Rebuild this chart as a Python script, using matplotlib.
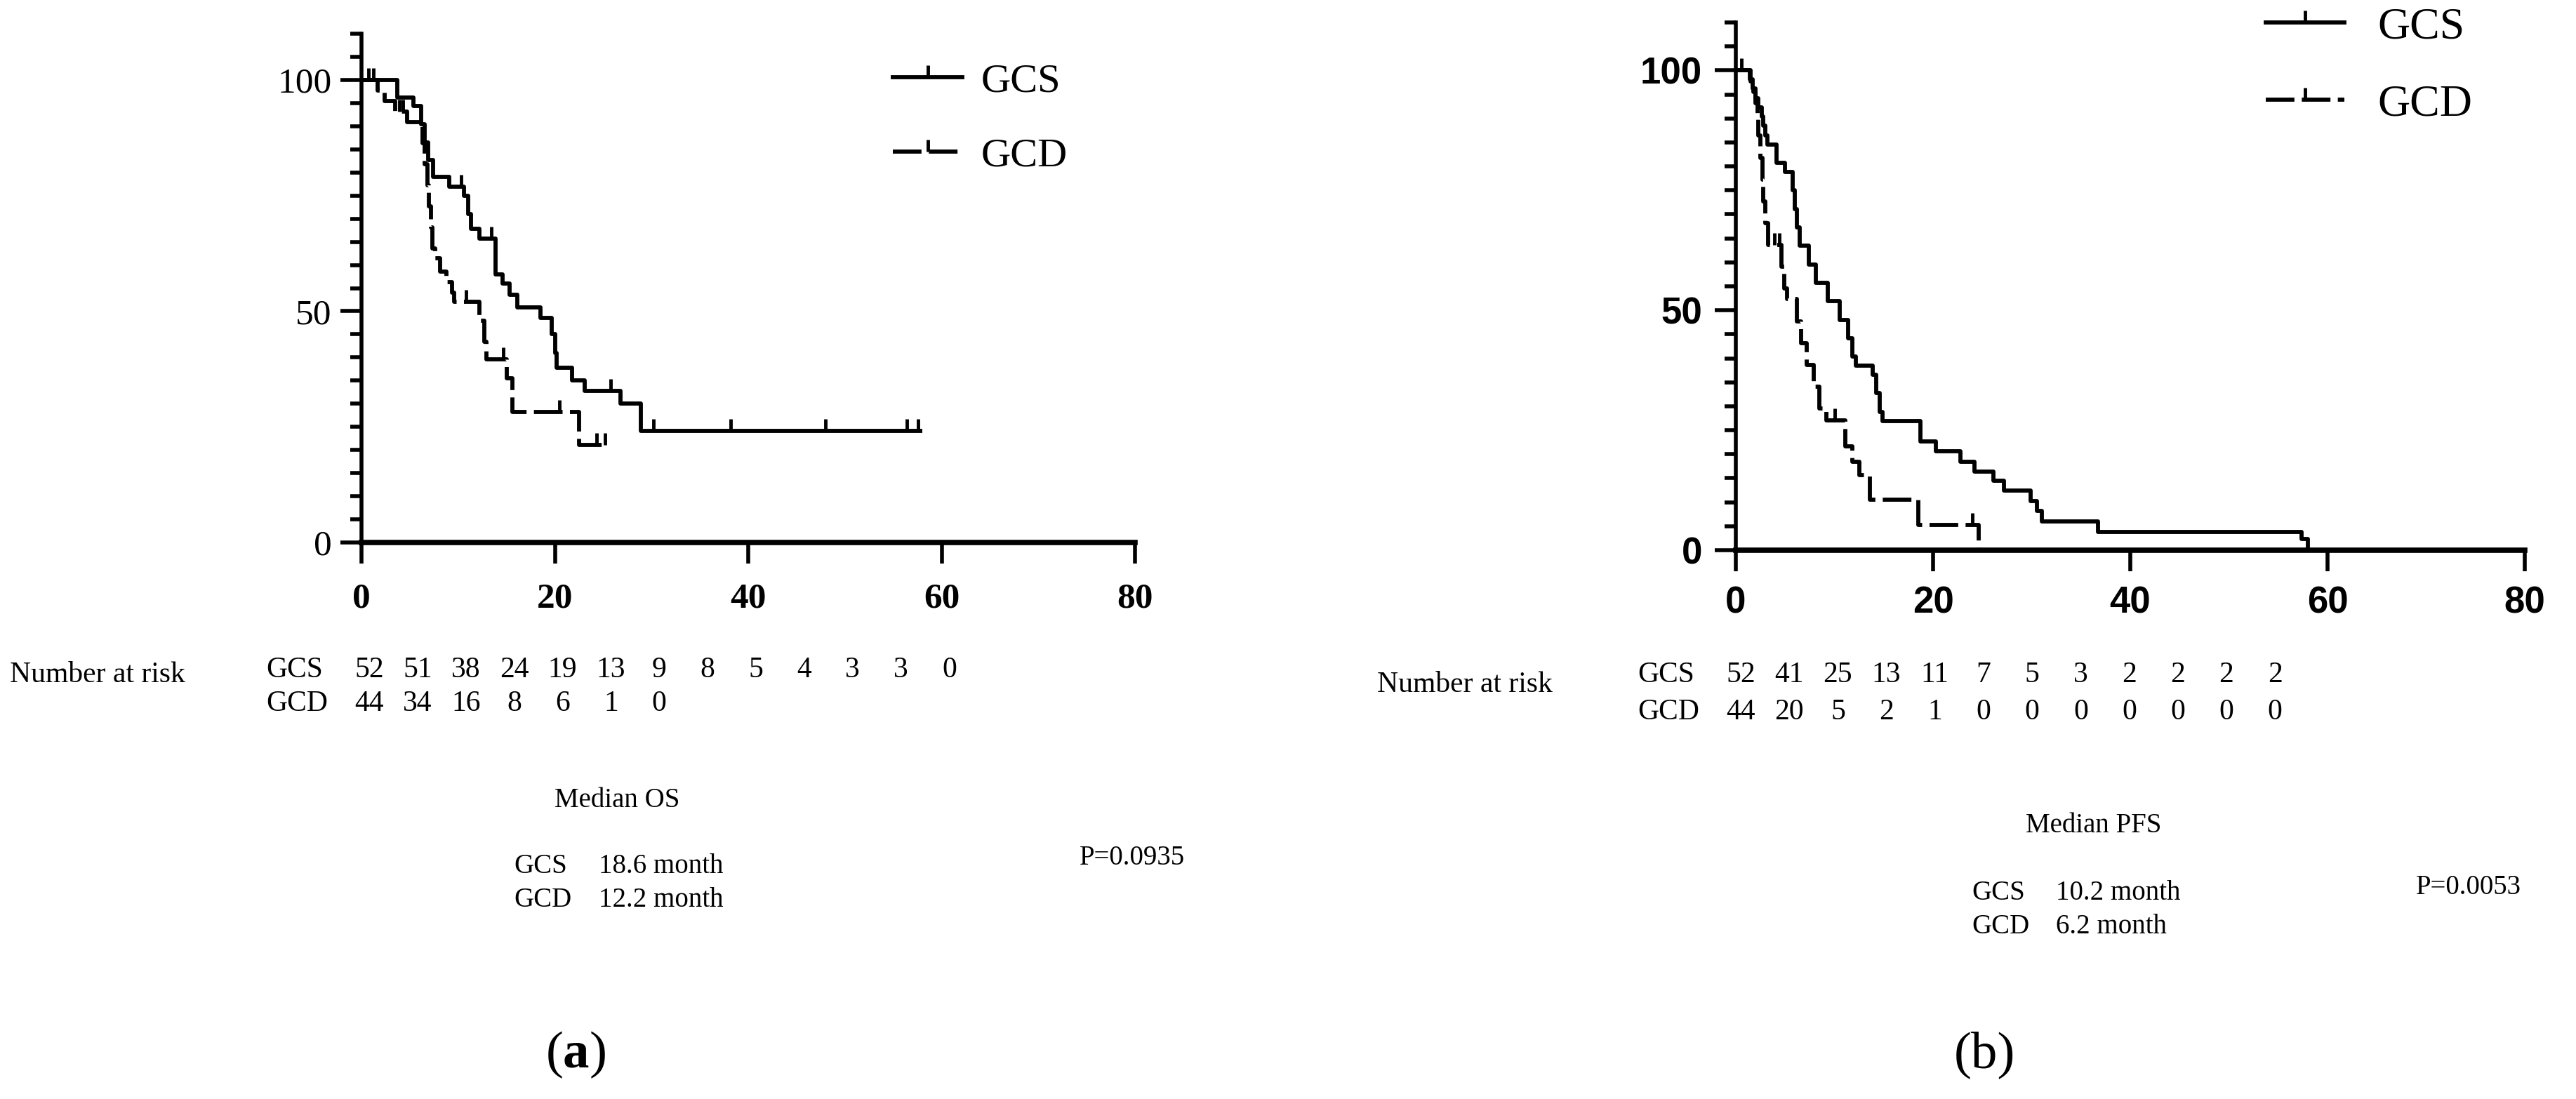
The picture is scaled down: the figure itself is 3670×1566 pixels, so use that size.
import numpy as np
import matplotlib.pyplot as plt
from matplotlib.lines import Line2D
from matplotlib.ticker import MultipleLocator
from matplotlib import transforms

plt.rcParams['font.family'] = ['Liberation Serif', 'DejaVu Serif']
plt.rcParams['mathtext.fontset'] = 'custom'
plt.rcParams['mathtext.rm'] = 'Liberation Serif'
plt.rcParams['mathtext.bf'] = 'Liberation Serif:bold'

## Kaplan-Meier curves (months, % event free)
# (a) overall survival
os_gcs_t = [0, 3.7, 5.4, 6.2, 6.5, 6.9, 7.4, 9.1, 10.6, 11.0, 11.3, 12.2, 13.9, 14.6,
            15.3, 16.1, 18.5, 19.7, 20.0, 20.2, 21.8, 23.1, 26.8, 28.9]
os_gcs_s = [100, 96.2, 94.4, 90.4, 86.5, 82.7, 79.0, 76.9, 74.9, 71.0, 67.8, 65.7, 58.0, 56.0,
            53.5, 50.8, 48.5, 45.0, 41.0, 37.8, 35.0, 32.8, 30.0, 24.2]
os_gcs_end = 58.0
os_gcs_cens = [0.7, 1.2, 10.3, 13.4, 25.8, 30.2, 38.2, 48.0, 56.4, 57.6]

os_gcd_t = [0, 1.7, 2.4, 3.5, 4.7, 6.3, 6.5, 6.8, 7.0, 7.2, 7.3, 7.6, 8.1, 8.8, 9.4, 9.6,
            12.2, 12.7, 12.9, 15.0, 15.6, 22.5]
os_gcd_s = [100, 97.7, 95.5, 93.2, 90.9, 86.4, 81.8, 77.3, 72.7, 68.2, 63.6, 61.4, 58.6, 56.3,
            54.0, 52.0, 47.9, 43.4, 39.6, 35.5, 28.2, 21.1]
os_gcd_end = 25.2
os_gcd_cens = [3.9, 4.3, 10.8, 14.7, 20.5, 24.3, 25.2]

# (b) progression free survival
pfs_gcs_t = [0, 1.4, 1.7, 2.0, 2.3, 2.6, 2.8, 3.0, 3.2, 4.1, 5.0, 5.8, 6.0, 6.2, 6.5, 7.4, 8.1,
             9.3, 10.5, 11.4, 11.8, 12.2, 13.9, 14.2, 14.6, 14.9, 18.7, 20.3, 22.8, 24.2, 26.1,
             27.2, 29.9, 30.5, 31.0, 36.7, 57.4, 58.0]
pfs_gcs_s = [100, 98.1, 96.2, 94.2, 92.3, 90.4, 88.5, 86.5, 84.6, 80.7, 78.8, 75.0, 71.1, 67.3,
             63.5, 59.6, 55.8, 51.9, 48.0, 44.2, 40.4, 38.4, 36.5, 32.7, 28.8, 26.9, 22.6, 20.6,
             18.4, 16.4, 14.5, 12.5, 10.3, 8.2, 6.0, 3.8, 2.4, 0]
pfs_gcs_end = 58.0
pfs_gcs_cens = [0.6]

pfs_gcd_t = [0, 1.5, 1.8, 2.0, 2.2, 2.3, 2.5, 2.7, 2.8, 3.0, 3.3, 4.6, 4.9, 5.2, 6.2, 6.6, 7.2,
             7.9, 8.5, 9.2, 11.1, 11.8, 12.5, 13.6, 18.5, 24.6]
pfs_gcd_s = [100, 97.7, 95.5, 93.2, 90.9, 86.4, 81.8, 77.3, 72.7, 68.2, 63.6, 59.1, 54.5, 52.3,
             47.7, 43.2, 38.6, 34.1, 29.5, 27.0, 21.6, 18.4, 15.6, 10.6, 5.3, 0]
pfs_gcd_end = 24.6
pfs_gcd_cens = [3.9, 4.4, 10.0, 24.0]

## Number at risk tables
risk_os_t = [0, 5, 10, 15, 20, 25, 30, 35, 40, 45, 50, 55, 60]
risk_os_gcs = [52, 51, 38, 24, 19, 13, 9, 8, 5, 4, 3, 3, 0]
risk_os_gcd = [44, 34, 16, 8, 6, 1, 0]
risk_pfs_t = [0, 5, 10, 15, 20, 25, 30, 35, 40, 45, 50, 55]
risk_pfs_gcs = [52, 41, 25, 13, 11, 7, 5, 3, 2, 2, 2, 2]
risk_pfs_gcd = [44, 20, 5, 2, 1, 0, 0, 0, 0, 0, 0, 0]

groups = ['GCS', 'GCD']
median_os = ['18.6 month', '12.2 month']
median_pfs = ['10.2 month', '6.2 month']
p_os = 'P=0.0935'
p_pfs = 'P=0.0053'

W, H = 3670, 1566
LW = 4.2
fig = plt.figure(figsize=(W / 100, H / 100), dpi=100)

def fy(ypx):
    return 1 - ypx / H

def make_axes(x0, x1, y0, y_top):
    return fig.add_axes([x0 / W, fy(y0), (x1 - x0) / W, (y0 - y_top) / H])

def km_at(t, s, tc):
    idx = np.searchsorted(t, tc, side='right') - 1
    return np.array(s)[idx]

def plot_km(ax, t, s, end, cens, ls):
    tt = list(t) + [end]
    ss = list(s) + [s[-1]]
    line = (0, (7, 1.8)) if ls == 'dashed' else '-'
    ax.step(tt, ss, where='post', color='k', lw=LW, ls=line, solid_capstyle='butt')
    ax.plot(cens, km_at(t, s, cens), ls='none', marker=2, ms=12, mew=3.5, color='k')

def style_axes(ax, sans):
    for side in ['top', 'right']:
        ax.spines[side].set_visible(False)
    ax.spines['left'].set_linewidth(4.0)
    ax.spines['bottom'].set_linewidth(5.5)
    ax.set_xlim(0, 80)
    ax.set_ylim(0, 110)
    ax.set_xticks([0, 20, 40, 60, 80])
    ax.set_yticks([0, 50, 100])
    ax.yaxis.set_minor_locator(MultipleLocator(5))
    ax.tick_params(which='major', length=21.6, width=4.0, direction='out')
    ax.tick_params(which='minor', length=11.5, width=4.0, direction='out')
    if sans:
        for lab in ax.get_xticklabels() + ax.get_yticklabels():
            lab.set_fontfamily('Liberation Sans')
            lab.set_fontweight('bold')
            lab.set_fontsize(38)
        ax.tick_params(axis='x', pad=15)
        ax.tick_params(axis='y', pad=13)
    else:
        for lab in ax.get_yticklabels():
            lab.set_fontsize(37)
        for lab in ax.get_xticklabels():
            lab.set_fontsize(37)
            lab.set_fontweight('bold')
        ax.tick_params(axis='x', pad=20)
        ax.tick_params(axis='y', pad=9)

def add_legend(ax, x, y, size, hl, spacing, textpad):
    handles = [Line2D([], [], color='k', lw=LW, ls='-', marker=2, ms=12, mew=3.5),
               Line2D([], [], color='k', lw=LW, ls=(0, (7, 1.8)), marker=2, ms=12, mew=3.5)]
    ax.legend(handles, groups, loc='upper left', bbox_to_anchor=(x / W, fy(y)),
              bbox_transform=fig.transFigure, frameon=False, fontsize=size,
              handlelength=hl, handletextpad=textpad, labelspacing=spacing,
              borderpad=0, borderaxespad=0, numpoints=1)

def risk_table(ax, x_title, x_lab, y_title, y_rows, times, rows, scale, offset):
    blend = transforms.blended_transform_factory(ax.transData, fig.transFigure)
    fig.text(x_title / W, fy(y_title), 'Number at risk', fontsize=30, va='center')
    for name, vals, yr in zip(groups, rows, y_rows):
        fig.text(x_lab / W, fy(yr), name, fontsize=30, va='center')
        for tm, n in zip(times, vals):
            ax.text(tm * scale + offset, fy(yr), str(n), transform=blend,
                    fontsize=30, ha='center', va='center')

def median_block(x_head, y_head, x_grp, x_val, y_rows, head, vals, p_text, x_p, y_p):
    fig.text(x_head / W, fy(y_head), head, fontsize=28, va='center')
    for name, val, yr in zip(groups, vals, y_rows):
        fig.text(x_grp / W, fy(yr), name, fontsize=28, va='center')
        fig.text(x_val / W, fy(yr), val, fontsize=28, va='center')
    fig.text(x_p / W, fy(y_p), p_text, fontsize=28, va='center', ha='right')

## Panel (a): overall survival
ax1 = make_axes(515, 1617, 773, 48)
plot_km(ax1, os_gcs_t, os_gcs_s, os_gcs_end, os_gcs_cens, 'solid')
plot_km(ax1, os_gcd_t, os_gcd_s, os_gcd_end, os_gcd_cens, 'dashed')
style_axes(ax1, sans=False)
add_legend(ax1, 1272, 90, 42, 1.7, 0.9, 0.45)
risk_table(ax1, 14, 379, 962, [955, 1003], risk_os_t, [risk_os_gcs, risk_os_gcd], 1.0, 0.8)
median_block(790, 1140, 732, 853, [1235, 1283], 'Median OS', median_os, p_os, 1688, 1222)
fig.text(820 / W, fy(1503), r'($\mathbf{a}$)', fontsize=54, ha='center', va='center')

## Panel (b): progression free survival
ax2 = make_axes(2473, 3597, 784, 32)
plot_km(ax2, pfs_gcs_t, pfs_gcs_s, pfs_gcs_end, pfs_gcs_cens, 'solid')
plot_km(ax2, pfs_gcd_t, pfs_gcd_s, pfs_gcd_end, pfs_gcd_cens, 'dashed')
style_axes(ax2, sans=True)
add_legend(ax2, 3228, 10, 46, 1.75, 0.8, 0.75)
risk_table(ax2, 1962, 2333, 976, [962, 1015], risk_pfs_t, [risk_pfs_gcs, risk_pfs_gcd], 0.985, 0.5)
median_block(2886, 1177, 2809, 2929, [1273, 1321], 'Median PFS', median_pfs, p_pfs, 3592, 1264)
fig.text(2827 / W, fy(1503), '(b)', fontsize=54, ha='center', va='center')

fig.savefig('out.png', dpi=100)
